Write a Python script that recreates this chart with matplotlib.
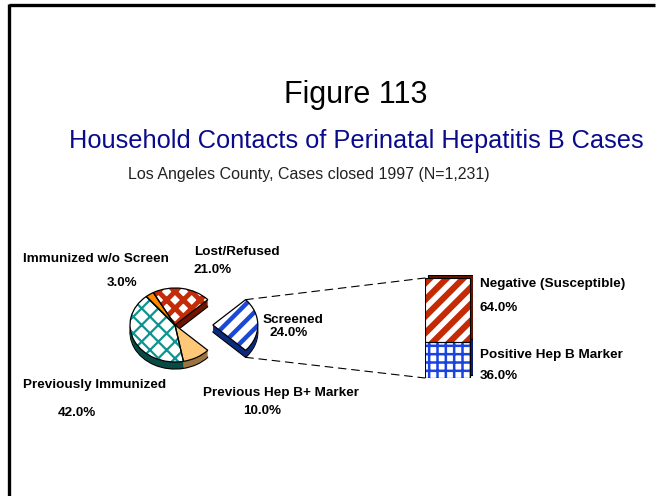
import numpy as np
import matplotlib
matplotlib.use("Agg")
import matplotlib.pyplot as plt
from matplotlib.patches import ConnectionPatch

W, H = 660, 496

# ---------------------------------------------------------------------
# Data
# ---------------------------------------------------------------------
# pie slices, counter-clockwise starting from the exploded "Screened" slice
pie_labels = ["Screened", "Lost/Refused", "Immunized w/o Screen",
              "Previously Immunized", "Previous Hep B+ Marker"]
pie_values = [24.0, 21.0, 3.0, 42.0, 10.0]

# breakdown of the "Screened" slice (bottom -> top)
bar_labels = ["Positive Hep B Marker", "Negative (Susceptible)"]
bar_values = [36.0, 64.0]

# ---------------------------------------------------------------------
# Styles
# ---------------------------------------------------------------------
top_colors = ["white", "white", "#ff8a00", "white", "#ffc878"]
top_hatch = ["//", "xx", None, "xx", None]
hatch_colors = ["#1c48d6", "#c32c08", "#ff8a00", "#0e9490", "#ffc878"]
hatch_widths = [3.2, 3.5, 1, 1.6, 1]
side_colors = ["#0c2a80", "#6e1400", "#a04c00", "#0a4a44", "#9c7440"]

bar_face = ["white", "#c42a04"]
bar_hatch = ["++", "//"]
bar_hatch_color = ["#1a44e0", "white"]
bar_hatch_width = [1.8, 4.0]
bar_side = ["#0a2080", "#6e1400"]

plt.rcParams["font.family"] = ["Liberation Sans", "DejaVu Sans"]
plt.rcParams["hatch.linewidth"] = 2.2

fig = plt.figure(figsize=(W / 100, H / 100), dpi=100)


def px_box(x0, y0, x1, y1):
    # pixel box (top-left origin) -> figure fraction rect
    return [x0 / W, 1 - y1 / H, (x1 - x0) / W, (y1 - y0) / H]


def hatch_lw(patch, lw):
    if hasattr(patch, "set_hatch_linewidth"):
        patch.set_hatch_linewidth(lw)


# main canvas in pixel coordinates for text and frame
ax = fig.add_axes([0, 0, 1, 1])
ax.set_xlim(0, W)
ax.set_ylim(H, 0)
ax.axis("off")

ax.plot([9, 655], [5, 5], color="black", lw=2.4, solid_capstyle="butt")
ax.plot([9, 9], [4, H], color="black", lw=2.4, solid_capstyle="butt")

ax.text(356, 95, "Figure 113", fontsize=22, ha="center", va="center")
ax.text(356, 141, "Household Contacts of Perinatal Hepatitis B Cases",
        fontsize=18.3, color="#0a0a8c", ha="center", va="center")
ax.text(128, 175, "Los Angeles County, Cases closed 1997 (N=1,231)",
        fontsize=11.5, color="#222222", ha="left", va="center")

# ---------------------------------------------------------------------
# Tilted 3-D pie
# ---------------------------------------------------------------------
RX, RY = 45, 37
cx, cy = 175, 325
ax_pie = fig.add_axes(px_box(cx - 2.5 * RX, cy - 2 * RY, cx + 2.5 * RX, cy + 2 * RY))
explode = [0.84, 0, 0, 0, 0]
start = -pie_values[0] / 100 * 180
depth = 7 / RY
n_layers = 10

for k in range(n_layers, 0, -1):
    off = depth * k / n_layers
    wedges, _ = ax_pie.pie(pie_values, explode=explode, startangle=start,
                           colors=side_colors, center=(0, -off),
                           wedgeprops=dict(linewidth=0))
    if k == n_layers:
        for w in wedges:
            w.set_edgecolor("black")
            w.set_linewidth(0.9)

wedges, _ = ax_pie.pie(pie_values, explode=explode, startangle=start,
                       colors=top_colors, wedgeprops=dict(linewidth=0))
for w, h, hc, hw in zip(wedges, top_hatch, hatch_colors, hatch_widths):
    if h:
        w.set_hatch(h)
        w.set_edgecolor(hc)
        hatch_lw(w, hw)

ax_pie.pie(pie_values, explode=explode, startangle=start,
           wedgeprops=dict(fill=False, edgecolor="black", linewidth=0.9))

ax_pie.set_aspect("auto")
ax_pie.set_xlim(-2.5, 2.5)
ax_pie.set_ylim(-2, 2)
ax_pie.axis("off")

# ---------------------------------------------------------------------
# Stacked bar for the Screened breakdown
# ---------------------------------------------------------------------
ax_bar = fig.add_axes(px_box(425, 275, 473, 378))
dx, dy = 3 / 45, 3
bottoms = np.concatenate([[0], np.cumsum(bar_values)[:-1]])
ax_bar.bar(dx, bar_values, bottom=bottoms + dy, width=1, color=bar_side,
           edgecolor="black", linewidth=0.8)
bars = ax_bar.bar(0, bar_values, bottom=bottoms, width=1, color=bar_face,
                  linewidth=0)
for b, h, hc, hw in zip(bars, bar_hatch, bar_hatch_color, bar_hatch_width):
    b.set_hatch(h)
    b.set_edgecolor(hc)
    hatch_lw(b, hw)
ax_bar.bar(0, bar_values, bottom=bottoms, width=1, fill=False,
           edgecolor="black", linewidth=0.8)
ax_bar.set_xlim(-0.5, 0.5 + dx)
ax_bar.set_ylim(0, sum(bar_values) + dy)
ax_bar.axis("off")

# dashed connectors from the exploded slice to the bar
a = np.deg2rad(pie_values[0] / 100 * 180)
tip_top = (explode[0] + np.cos(a), np.sin(a))
tip_bot = (explode[0] + np.cos(a), -np.sin(a) - depth)
for pa, pb in [(tip_top, (-0.5, sum(bar_values))), (tip_bot, (-0.5, 0))]:
    con = ConnectionPatch(xyA=pa, coordsA=ax_pie.transData,
                          xyB=pb, coordsB=ax_bar.transData,
                          color="black", lw=0.8, linestyle=(0, (7, 5)))
    fig.add_artist(con)

# ---------------------------------------------------------------------
# Labels
# ---------------------------------------------------------------------
lab = dict(fontsize=9.7, fontweight="bold", ha="left", va="center")
ax.text(23, 259, pie_labels[2], **lab)
ax.text(107, 283, f"{pie_values[2]:.1f}%", **lab)
ax.text(194, 252, pie_labels[1], **lab)
ax.text(193, 270, f"{pie_values[1]:.1f}%", **lab)
ax.text(263, 320, pie_labels[0], **lab)
ax.text(269, 333, f"{pie_values[0]:.1f}%", **lab)
ax.text(23, 385, pie_labels[3], **lab)
ax.text(58, 413, f"{pie_values[3]:.1f}%", **lab)
ax.text(203, 393, pie_labels[4], **lab)
ax.text(243, 411, f"{pie_values[4]:.1f}%", **lab)

ax.text(480, 284, bar_labels[1], **lab)
ax.text(480, 308, f"{bar_values[1]:.1f}%", **lab)
ax.text(480, 355, bar_labels[0], **lab)
ax.text(480, 376, f"{bar_values[0]:.1f}%", **lab)

fig.savefig("out.png", dpi=100)
